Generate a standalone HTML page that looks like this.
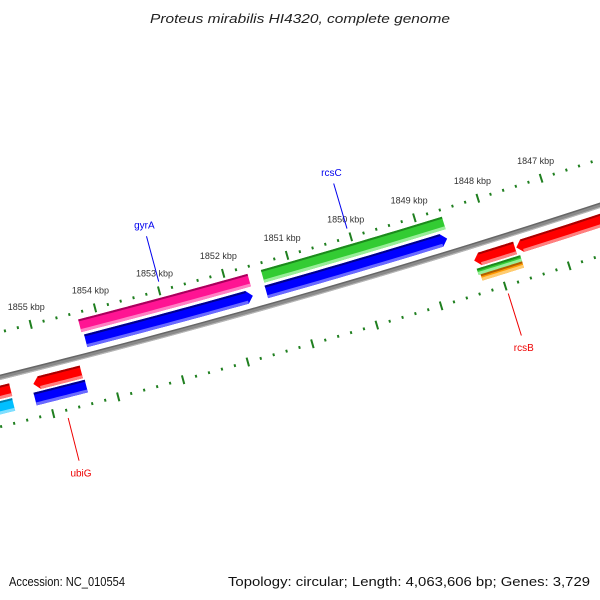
<!DOCTYPE html>
<html><head><meta charset="utf-8"><style>
html,body{margin:0;padding:0;background:#fff;}
svg{display:block;font-family:"Liberation Sans","DejaVu Sans",sans-serif;}
</style></head><body>
<svg id="map" width="600" height="600" viewBox="0 0 600 600" xmlns="http://www.w3.org/2000/svg">
<rect width="600" height="600" fill="#fff"/>
<g id="layer"></g>
<text x="150" y="23" font-size="13" font-style="italic" fill="#222" textLength="300" lengthAdjust="spacingAndGlyphs">Proteus mirabilis HI4320, complete genome</text>
<text x="9" y="586" font-size="12.5" fill="#111" textLength="116" lengthAdjust="spacingAndGlyphs">Accession: NC_010554</text>
<text x="228" y="586" font-size="12.5" fill="#111" textLength="362" lengthAdjust="spacingAndGlyphs">Topology: circular; Length: 4,063,606 bp; Genes: 3,729</text>
</svg>
<script>
// ---- data ----
const featStart = [1854.29, 1854.26, 1851.44, 1851.45, 1847.67, 1848.33, 1848.33, 1848.30, 1855.18, 1855.21, 1857.5, 1857.5];
const featEnd   = [1851.65, 1851.66, 1848.60, 1848.62, 1844.0, 1847.69, 1847.65, 1847.65, 1854.44, 1854.42, 1855.53, 1855.54];
const featTrack = ['outer1','outer2','outer1','outer2','inner1','inner1','inner2a','inner2b','inner1','inner2','inner1','inner2'];
const featColor = ['pink','blue','green','blue','red','red','green','orange','red','blue','red','cyan'];
const featArrow = ['none','end','none','end','start','start','none','none','start','none','none','none'];
const tickLabels = [1847, 1848, 1849, 1850, 1851, 1852, 1853, 1854, 1855];
const geneNames = ['gyrA', 'rcsC', 'rcsB', 'ubiG'];
const genePos = [1852.97, 1850.02, 1847.99, 1854.8];
const geneSide = ['outer', 'outer', 'inner', 'inner'];
const geneColor = ['#0000ee', '#0000ee', '#ee0000', '#ee0000'];

// ---- geometry ----
const CX = -2026, CY = -7822, R0 = 8446;
const PHI0 = 0.2868, K0 = 1850, RAD_PER_KBP = 0.0079;
function phi(k){ return PHI0 - (k - K0) * RAD_PER_KBP; }
function P(k, off){ const r = R0 + off, f = phi(k); return [CX + r*Math.sin(f), CY + r*Math.cos(f)]; }
function kbpPx(px){ return px / (R0 * RAD_PER_KBP); }
const trackOff = {outer1:[-37,-24], outer2:[-21,-8], inner1:[8,21], inner2:[23,36], inner2a:[23,29.5], inner2b:[29.5,36]};
const palette = {
  pink:['#ff1493','#a8005c','#ff80c4'], blue:['#0000ff','#00008a','#6a6aff'],
  green:['#33cc33','#1d8a1d','#99ee99'], red:['#ff0000','#a80000','#ff8080'],
  orange:['#ff9900','#b06000','#ffcc70'], cyan:['#00bfff','#0080b0','#80dfff']
};
const NS = 'http://www.w3.org/2000/svg';
const layer = document.getElementById('layer');
function mk(tag, attrs){ const e = document.createElementNS(NS, tag); for (const k in attrs) e.setAttribute(k, attrs[k]); return e; }
function arcPts(k1, k2, off, n){ const pts=[]; for(let i=0;i<=n;i++){ pts.push(P(k1+(k2-k1)*i/n, off)); } return pts; }
function ptsStr(p){ return p.map(q=>q[0].toFixed(2)+','+q[1].toFixed(2)).join(' '); }

// ---- backbone ----
const bb = mk('polyline', {points: ptsStr(arcPts(1860, 1842, 0, 60)), fill:'none', stroke:'#8a8a8a', 'stroke-width':5});


layer.appendChild(bb);
const bbTop = mk('polyline', {points: ptsStr(arcPts(1860, 1842, -2, 60)), fill:'none', stroke:'#666', 'stroke-width':1.5});


layer.appendChild(bbTop);
const bbBot = mk('polyline', {points: ptsStr(arcPts(1860, 1842, 2, 60)), fill:'none', stroke:'#b5b5b5', 'stroke-width':1.2});


layer.appendChild(bbBot);

// ---- ticks ----
function drawRing(off, name){
  for (let i = 1843*5; i <= 1858*5; i++){
    const k = i/5, major = (i % 5 === 0);
    const len = major ? 4.5 : 1.4;
    const a = P(k, off-len), b = P(k, off+len);
    const t = mk('line', {x1:a[0], y1:a[1], x2:b[0], y2:b[1], stroke:'#1f7f1f', 'stroke-width':2});
    
    
    layer.appendChild(t);
  }
}
drawRing(-44, 'outer-ruler');
drawRing(48, 'inner-ruler');
tickLabels.forEach(k => {
  const p = P(k, -62);
  const t = mk('text', {x:p[0], y:p[1]+3, 'text-anchor':'middle', 'font-size':9, fill:'#333'});
  t.textContent = k + ' kbp';
  
  
  layer.appendChild(t);
});

// ---- features ----
for (let i = 0; i < featStart.length; i++){
  const [r1, r2] = trackOff[featTrack[i]];
  const col = palette[featColor[i]];
  let s = featStart[i], e = featEnd[i];
  const ah = kbpPx(6), mid = (r1 + r2)/2;
  let ss = s, ee = e;
  if (featArrow[i] === 'start') ss = s - ah;
  if (featArrow[i] === 'end') ee = e + ah;
  let pts = arcPts(ss, ee, r1, 20);
  if (featArrow[i] === 'end') pts.push(P(e, mid));
  pts = pts.concat(arcPts(ee, ss, r2, 20));
  if (featArrow[i] === 'start') pts.push(P(s, mid));
  const g = mk('g', {});
  
  
  const body = mk('polygon', {points: ptsStr(pts), fill: col[0]});
  
  
  g.appendChild(body);
  const dark = mk('polygon', {points: ptsStr(arcPts(ss, ee, r1, 20).concat(arcPts(ee, ss, r1+2, 20))), fill: col[1]});
  
  
  g.appendChild(dark);
  const light = mk('polygon', {points: ptsStr(arcPts(ss, ee, r2-3, 20).concat(arcPts(ee, ss, r2, 20))), fill: col[2]});
  
  
  g.appendChild(light);
  layer.appendChild(g);
}

// ---- gene labels ----
for (let i = 0; i < geneNames.length; i++){
  const k = genePos[i];
  const o = geneSide[i] === 'outer';
  const a = P(k, o ? -53 : 56), b = P(k, o ? -100 : 100), c = P(k, o ? -108 : 108);
  const ln = mk('line', {x1:a[0], y1:a[1], x2:b[0], y2:b[1], stroke:geneColor[i], 'stroke-width':1});
  
  
  layer.appendChild(ln);
  const t = mk('text', {x:c[0], y: o ? c[1] : c[1]+8, 'text-anchor':'middle', 'font-size':10, fill:geneColor[i]});
  t.textContent = geneNames[i];
  
  
  layer.appendChild(t);
}
</script>
</body></html>
